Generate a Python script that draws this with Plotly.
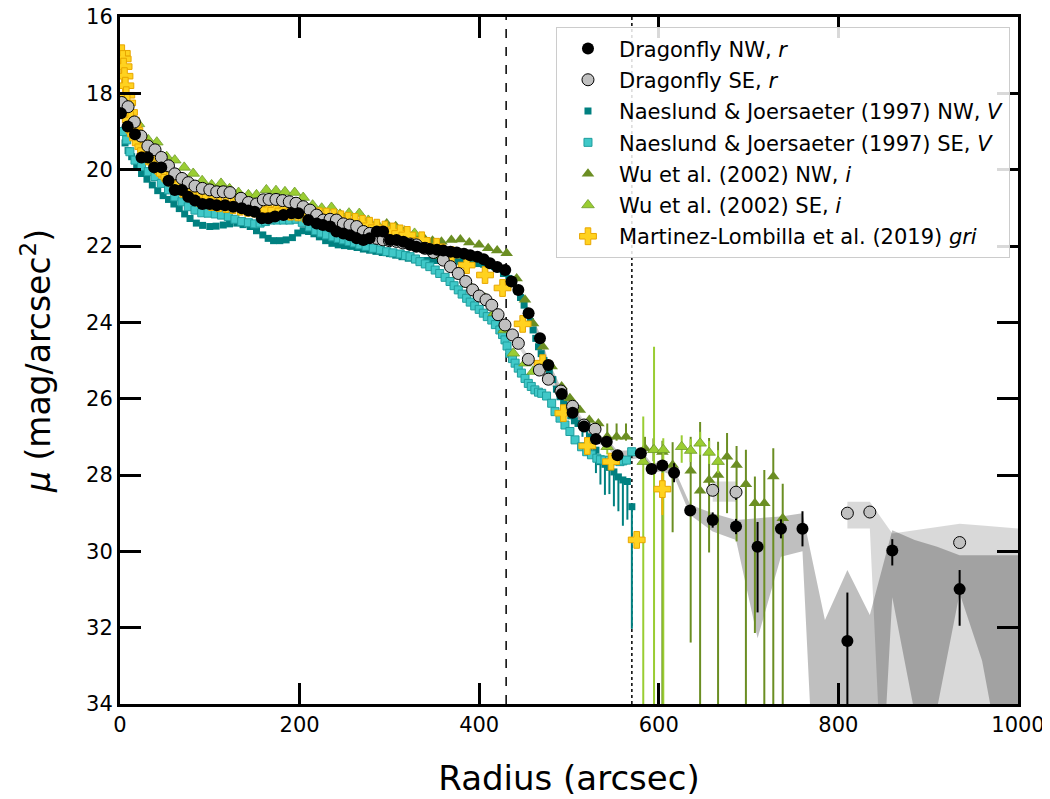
import plotly.graph_objects as go

# ---------------- data ----------------
# Dragonfly NW (r)
NW_r = [1, 8.5, 16.7, 24, 31, 38, 46, 54, 61, 69, 76, 83.5, 91.7, 100, 107.7, 117, 126, 135.5, 143, 150,
        158, 165, 172.6, 182, 191, 198.6, 209.7, 219, 226, 234, 241, 248.7, 256, 263.5, 271, 278, 286, 293, 300.7, 308,
        315.5, 323, 330, 338, 345, 353, 360, 368, 375, 383, 390, 398, 405, 412, 420, 429, 436, 443.6, 455, 467.7,
        477, 492, 504, 516.7, 530, 542, 554, 580, 592, 604, 617, 635, 660, 686, 710, 736, 760, 810, 860, 935]
NW_mu = [18.52, 18.87, 19.07, 19.68, 19.68, 19.94, 19.94, 20.29, 20.53, 20.53, 20.71, 20.81, 20.90, 20.90, 20.93, 20.93, 20.97, 21.01, 21.07, 21.1,
         21.27, 21.27, 21.23, 21.19, 21.14, 21.14, 21.32, 21.41, 21.45, 21.49, 21.62, 21.67, 21.72, 21.80, 21.84, 21.80, 21.62, 21.62, 21.84, 21.84,
         21.89, 21.97, 22.02, 22.05, 22.08, 22.1, 22.12, 22.15, 22.17, 22.2, 22.24, 22.28, 22.35, 22.45, 22.55, 22.63, 22.93, 23.15, 23.76, 24.42,
         25.12, 25.88, 26.37, 26.73, 27.06, 27.13, 27.48, 27.43, 27.84, 27.75, 27.94, 28.93, 29.18, 29.35, 29.88, 29.41, 29.41, 32.35, 29.98, 30.99]
NW_err_up = [0.03] * 67 + [0.1, 0.1, 0.12, 0.25, 0.12, 0.2, 0.2, 0.65, 0.25, 0.46, 1.27, 0.3, 0.5]
NW_err_dn = [0.03] * 67 + [0.1, 0.1, 0.12, 0.25, 0.12, 0.2, 0.2, 1.72, 0.25, 0.46, 3.0, 0.39, 0.96]

# Dragonfly SE (r)
SE_r = [1.9, 9, 16, 23.4, 31, 39, 46, 54, 61, 69, 76, 83.5, 91.7, 100, 107.7, 115, 122.5, 134.7, 143, 152,
        159.6, 166, 173.7, 181, 188.5, 196, 204, 211.6, 219, 226.4, 233.9, 241, 248.7, 256, 263.6, 271, 278, 286, 293, 300,
        308, 315, 323, 330, 339.6, 349, 360, 368, 376.7, 385, 392.7, 400, 407.6, 414, 421, 428.7, 437, 443.6, 454.7, 467,
        477, 491, 504, 516.7, 529, 660, 686, 810, 835, 935]
SE_mu = [18.24, 18.35, 18.75, 19.12, 19.38, 19.48, 19.68, 19.9, 20.11, 20.23, 20.34, 20.43, 20.49, 20.53, 20.58, 20.58, 20.6, 20.75, 20.86, 20.9,
         20.79, 20.78, 20.78, 20.81, 20.84, 20.88, 20.97, 21.06, 21.19, 21.32, 21.3, 21.32, 21.42, 21.45, 21.49, 21.62, 21.67, 21.8, 21.84, 21.86,
         21.88, 21.92, 21.95, 21.97, 22.06, 22.17, 22.37, 22.54, 22.72, 22.93, 23.15, 23.31, 23.41, 23.55, 23.8, 24.07, 24.33, 24.55, 24.97, 25.25,
         25.49, 25.8, 26.2, 26.69, 26.8, 28.4, 28.45, 29.0, 28.97, 29.77]
SE_err_up = [0.03] * 65 + [0.1, 0.05, 0.1, 0.1, 0.12]
SE_err_dn = [0.03] * 65 + [0.1, 0.2, 0.1, 0.1, 0.12]

# Dragonfly uncertainty bands
NWb_r = [330, 345, 360, 375, 390, 405, 420, 429, 436, 443.6, 455, 467.7, 477, 492, 504, 516.7, 530, 542, 554, 567,
         580, 592, 604, 617, 635, 660, 686, 710, 736, 760, 785, 810, 835, 860, 885, 910, 935, 960, 985, 1010]
NWb_hi = [21.95, 22.0, 22.05, 22.1, 22.17, 22.28, 22.47, 22.55, 22.83, 23.05, 23.65, 24.3, 25.0, 25.75, 26.25, 26.62, 26.95, 27.03, 27.37, 27.35,
          27.33, 27.7, 27.65, 27.82, 28.78, 29.0, 29.18, 29.13, 29.09, 29.0, 31.8, 30.49, 31.67, 29.45, 29.7, 29.88, 30.1, 30.1, 30.1, 30.1]
NWb_lo = [22.1, 22.16, 22.2, 22.25, 22.32, 22.43, 22.63, 22.72, 23.03, 23.25, 23.87, 24.55, 25.25, 26.0, 26.5, 26.85, 27.17, 27.25, 27.6, 27.6,
          27.55, 27.95, 27.9, 28.04, 29.05, 29.48, 29.7, 32.28, 30.14, 30.0, 42, 42, 42, 31.2, 34.25, 34.1, 31.1, 32.87, 36, 36]

SEb_r = [330, 339.6, 349, 360, 368, 376.7, 385, 392.7, 400, 407.6, 414, 421, 428.7, 437, 443.6, 454.7, 467, 477, 491, 504, 516.7, 529,
         660, 686,
         810, 835, 860, 885, 910, 935, 960, 985, 1010]
SEb_hi = [21.88, 21.97, 22.08, 22.28, 22.45, 22.63, 22.84, 23.06, 23.22, 23.32, 23.46, 23.71, 23.98, 24.24, 24.46, 24.88, 25.16, 25.4, 25.7, 26.1, 26.58, 26.68,
          28.17, 28.17,
          28.7, 28.7, 29.53, 29.45, 29.37, 29.28, 29.32, 29.36, 29.42]
SEb_lo = [22.06, 22.15, 22.26, 22.46, 22.63, 22.81, 23.02, 23.24, 23.4, 23.5, 23.64, 23.89, 24.16, 24.42, 24.64, 25.06, 25.34, 25.58, 25.9, 26.3, 26.8, 26.92,
          28.7, 28.7,
          29.4, 29.4, 42, 42, 42, 42, 42, 42, 42]
SEb_seg = [0] * 22 + [1] * 2 + [2] * 9

# Naeslund & Joersaeter (1997) NW, V
NJNW_r = [2, 5.6, 9, 13, 18.6, 24, 30, 36, 42, 48, 54, 60, 66, 72, 78, 85, 92, 100, 107, 115,
          122, 130, 137, 145, 152, 159, 165, 171, 178, 185, 192, 198, 204, 210, 216, 222, 229, 236, 243, 250,
          257, 264, 271, 278, 285, 292, 300, 307, 314, 321, 328, 335, 342, 349, 356, 363, 370, 377, 384, 391,
          398, 405, 411, 417, 422, 427, 433, 438, 442, 446, 450, 453, 457, 460, 463, 466, 469, 472, 475, 478,
          482, 486, 490, 494, 498, 502, 506, 510, 515, 520, 525, 530, 535, 540, 545, 550, 555, 560, 565, 570]
NJNW_mu = [19.0, 19.3, 19.5, 19.66, 19.92, 20.1, 20.25, 20.4, 20.55, 20.68, 20.78, 20.9, 21.02, 21.16, 21.28, 21.4, 21.46, 21.49, 21.48, 21.45,
           21.42, 21.4, 21.44, 21.49, 21.6, 21.71, 21.8, 21.86, 21.86, 21.84, 21.78, 21.66, 21.6, 21.62, 21.68, 21.76, 21.86, 21.93, 21.97, 21.99,
           22.01, 22.04, 22.08, 22.11, 22.14, 22.17, 22.2, 22.24, 22.28, 22.32, 22.36, 22.38, 22.38, 22.38, 22.38, 22.39, 22.4, 22.4, 22.42, 22.44,
           22.46, 22.48, 22.5, 22.54, 22.6, 22.72, 22.85, 22.98, 23.15, 23.35, 23.55, 23.76, 23.98, 24.2, 24.42, 24.64, 24.82, 25.0, 25.15, 25.3,
           25.5, 25.75, 25.95, 26.12, 26.3, 26.45, 26.58, 26.65, 26.7, 26.75, 27.0, 27.35, 27.65, 27.72, 27.8, 27.92, 28.05, 28.13, 28.17, 28.83]
NJNW_err_up = [0.05] * 100
NJNW_err_dn = [0.05] * 88 + [0.3, 0.35, 0.4, 0.6, 0.6, 0.8, 0.7, 0.9, 0.9, 1.2, 1.0, 3.2]

# Naeslund & Joersaeter (1997) SE, V
NJSE_r = [3, 7.4, 11, 16.7, 24, 31.5, 39, 46, 54, 61, 69, 76, 83.5, 91, 98, 106, 113, 120.6, 128, 135.5,
          143, 150, 156, 162, 168, 175, 182, 189, 196, 203, 211, 218, 224, 230, 237, 243, 249, 255, 261, 267,
          274, 282, 290, 297, 304, 312, 318, 323, 329, 334, 340, 345, 351, 356, 362, 367.5, 372, 376.7, 381, 386,
          390, 395, 400, 404.6, 409, 414, 418, 423, 426, 428.7, 431, 434, 437, 440, 443.5, 447, 451, 454.7, 458, 462,
          466, 469.6, 475, 480.7, 484.4, 490, 495.5, 501, 506.7, 514, 519.7, 525, 531, 535, 540, 545, 549, 553, 556.8, 560,
          564, 569.8]
NJSE_mu = [19.0, 19.22, 19.53, 19.75, 19.92, 20.05, 20.18, 20.36, 20.53, 20.71, 20.84, 20.97, 21.06, 21.13, 21.14, 21.16, 21.19, 21.23, 21.3, 21.36,
           21.39, 21.42, 21.4, 21.36, 21.32, 21.32, 21.32, 21.32, 21.3, 21.38, 21.5, 21.6, 21.66, 21.71, 21.76, 21.8, 21.84, 21.88, 21.92, 21.97,
           22.01, 22.06, 22.1, 22.15, 22.18, 22.21, 22.25, 22.28, 22.34, 22.41, 22.47, 22.54, 22.63, 22.72, 22.82, 22.93, 23.04, 23.15, 23.26, 23.37,
           23.47, 23.57, 23.66, 23.76, 23.85, 23.94, 24.06, 24.2, 24.32, 24.46, 24.62, 24.81, 24.95, 25.07, 25.2, 25.33, 25.47, 25.6, 25.68, 25.77,
           25.83, 25.86, 25.93, 26.12, 26.34, 26.51, 26.69, 26.86, 27.08, 27.26, 27.39, 27.47, 27.56, 27.6, 27.61, 27.62, 27.61, 27.63, 27.65, 27.63,
           27.61, 27.39]

# Wu et al. (2002) NW, i
WuNW_r = [297, 307, 317, 328, 338, 348, 358, 369, 379, 389, 399.8, 410, 420, 430.6, 441.7, 451, 460, 471, 480.7, 491.8,
          501, 512, 522.6, 532.7, 542.6, 553, 563.5, 584.6, 594, 604, 615.4, 635.5, 646, 656, 666, 676, 686.6, 697, 707, 717.5,
          727.5, 738]
WuNW_mu = [21.41, 21.48, 21.6, 21.7, 21.78, 21.86, 21.89, 21.84, 21.83, 21.91, 21.97, 22.06, 22.12, 22.19, 22.85, 23.41, 24.03, 24.64, 25.16, 25.68,
           25.99, 26.3, 26.56, 26.65, 27.0, 27.0, 27.0, 27.3, 27.34, 27.4, 27.74, 27.89, 28.41, 28.13, 28.0, 27.52, 27.74, 28.24, 28.74, 28.74,
           28.04, 29.13]
WuNW_err_up = [0.05] * 24 + [0.35, 0.35, 0.35] + [0.3, 0.3, 0.3, 0.6, 0.89, 1.8, 1.1, 0.87, 0.62, 0.5, 0.9, 0.7, 0.87, 0.74, 0.9]
WuNW_err_dn = [0.05] * 24 + [0.1, 0.1, 0.1] + [0.3, 0.3, 7, 1.76, 4.5, 7, 1.9, 7, 1.48, 2.0, 7, 3.4, 7, 7, 7]

# Wu et al. (2002) SE, i
WuSE_r = [10, 20.5, 31.5, 41, 52, 61, 71.5, 81.5, 91.5, 102, 112.5, 122, 132, 143, 152, 163, 173.7, 183.7, 194.5, 204,
          214.5, 224.6, 235.5, 245, 255, 266.5, 276.5, 287, 297, 307, 317.4, 328, 338, 348, 358, 368, 378, 388, 397, 406.5,
          417, 428, 438, 451, 460, 542.6, 582.7, 594.7, 605, 625.5, 635.5, 646, 656, 666]
WuSE_mu = [18.45, 18.8, 19.22, 19.28, 19.66, 19.75, 19.94, 20.1, 20.29, 20.4, 20.36, 20.5, 20.6, 20.66, 20.66, 20.53, 20.55, 20.58, 20.6, 20.73,
           20.93, 21.01, 20.99, 21.17, 21.14, 21.15, 21.33, 21.45, 21.5, 21.55, 21.62, 21.67, 21.89, 22.05, 22.25, 22.5, 22.75, 23.0, 23.2, 23.37,
           23.75, 24.2, 24.81, 25.07, 25.29, 27.26, 27.65, 27.34, 27.34, 27.26, 27.36, 27.17, 27.41, 27.65]
WuSE_err_up = [0.05] * 45 + [0.2, 1.18, 2.7, 0.3, 0.3, 0.3, 0.3, 0.3, 0.3]
WuSE_err_dn = [0.05] * 45 + [0.2, 7, 7, 7, 0.42, 0.3, 0.3, 0.3, 0.3]

# Martinez-Lombilla et al. (2019) gri
ML_r = [2, 3, 4, 5, 6, 7, 8, 10, 12, 14, 16, 18, 20, 23, 26, 29, 32, 35, 38, 42,
        46, 50, 55, 60, 65, 70, 76, 82, 88, 95, 102, 110, 118, 126, 134, 142, 150, 158, 166, 174,
        182, 190, 198, 206, 214, 222, 230, 238, 246, 254, 262, 270, 278, 286, 295, 304, 312, 320, 336, 352.6,
        369, 386, 406.5, 426, 448.4, 470.6, 493.7, 520.4, 546.8, 575.4, 604]
ML_mu = [16.95, 17.1, 17.3, 17.55, 17.8, 18.05, 18.25, 18.5, 18.7, 18.85, 18.97, 19.07, 19.17, 19.3, 19.4, 19.5, 19.6, 19.7, 19.8, 19.9,
         20.0, 20.1, 20.2, 20.3, 20.4, 20.5, 20.6, 20.68, 20.74, 20.8, 20.85, 20.88, 20.9, 20.93, 20.97, 21.0, 21.02, 21.05, 21.05, 21.06,
         21.08, 21.1, 21.12, 21.15, 21.2, 21.22, 21.23, 21.25, 21.3, 21.34, 21.37, 21.42, 21.47, 21.52, 21.57, 21.62, 21.67, 21.71, 21.85, 22.02,
         22.24, 22.5, 22.76, 23.1, 24.04, 25.07, 26.38, 27.24, 27.65, 29.7, 28.37]
ML_err_up = [0.05] * 70 + [0.42]
ML_err_dn = [0.05] * 70 + [0.68]

# reference radii
R_DASHED = 430
R_DOTTED = 570

X_TICKS = [0, 200, 400, 600, 800, 1000]
Y_TICKS = [16, 18, 20, 22, 24, 26, 28, 30, 32, 34]

FONT = "DejaVu Sans"

# ---------------- figure ----------------
fig = go.Figure()


def band(r, hi, lo, color):
    xs = list(r) + list(r)[::-1]
    ys = list(hi) + list(lo)[::-1]
    fig.add_trace(go.Scatter(x=xs, y=ys, mode="lines", fill="toself", fillcolor=color,
                             line=dict(width=0), hoverinfo="skip", showlegend=False))


# SE band segments
for s in sorted(set(SEb_seg)):
    idx = [i for i, g in enumerate(SEb_seg) if g == s]
    band([SEb_r[i] for i in idx], [SEb_hi[i] for i in idx], [SEb_lo[i] for i in idx], "rgba(0,0,0,0.15)")
band(NWb_r, NWb_hi, NWb_lo, "rgba(0,0,0,0.25)")


def series(name, x, y, up, dn, symbol, size, fill, edge, edgew, ecolor, rank):
    fig.add_trace(go.Scatter(
        x=x, y=y, mode="markers", name=name, legendrank=rank, legendgroup=str(rank),
        marker=dict(symbol=symbol, size=size, color=fill, line=dict(color=edge, width=edgew)),
        error_y=dict(type="data", symmetric=False, array=dn, arrayminus=up,
                     color=ecolor, thickness=2, width=0),
    ))


series("Naeslund & Joersaeter (1997) NW, <i>V</i>", NJNW_r, NJNW_mu, NJNW_err_up, NJNW_err_dn,
       "square", 7, "#008080", "#008080", 0, "#008080", 3)
series("Naeslund & Joersaeter (1997) SE, <i>V</i>", NJSE_r, NJSE_mu, [0.03] * len(NJSE_r), [0.03] * len(NJSE_r),
       "square", 8, "#40c8c8", "#1e9e9e", 1, "#40c8c8", 4)
series("Wu et al. (2002) NW, <i>i</i>", WuNW_r, WuNW_mu, WuNW_err_up, WuNW_err_dn,
       "triangle-up", 11, "#6b8e23", "#6b8e23", 0, "#6b8e23", 5)
series("Wu et al. (2002) SE, <i>i</i>", WuSE_r, WuSE_mu, WuSE_err_up, WuSE_err_dn,
       "triangle-up", 11, "#9acd32", "#6f9a2a", 0.8, "#9acd32", 6)
series("Martinez-Lombilla et al. (2019) <i>gri</i>", ML_r, ML_mu, ML_err_up, ML_err_dn,
       "cross", 14, "#ffd21f", "#e8a600", 1, "#f0b400", 7)
series("Dragonfly SE, <i>r</i>", SE_r, SE_mu, SE_err_up, SE_err_dn,
       "circle", 12, "#c0c0c0", "#000000", 1, "#000000", 2)
series("Dragonfly NW, <i>r</i>", NW_r, NW_mu, NW_err_up, NW_err_dn,
       "circle", 12, "#000000", "#000000", 0, "#000000", 1)

fig.add_shape(type="line", x0=R_DASHED, x1=R_DASHED, y0=0, y1=1, xref="x", yref="paper",
              line=dict(color="black", width=1.5, dash="dash"), layer="below")
fig.add_shape(type="line", x0=R_DOTTED, x1=R_DOTTED, y0=0, y1=1, xref="x", yref="paper",
              line=dict(color="black", width=1.5, dash="dot"), layer="below")

axis_common = dict(showgrid=False, zeroline=False, showline=True, linewidth=3, linecolor="black",
                   mirror="allticks", ticks="inside", ticklen=21, tickwidth=2.5, tickcolor="black",
                   automargin=False, ticklabeloverflow="allow",
                   tickfont=dict(family=FONT, size=21, color="black"))

fig.update_xaxes(range=[0, 1000], tickvals=X_TICKS, ticktext=[str(v) for v in X_TICKS],
                 title=dict(text="Radius (arcsec)", font=dict(family=FONT, size=34, color="black"), standoff=30),
                 **axis_common)
fig.update_yaxes(range=[34, 16], tickvals=Y_TICKS, ticktext=[str(v) for v in Y_TICKS],
                 title=dict(text="<i>μ</i> (mag/arcsec<sup>2</sup>)", font=dict(family=FONT, size=33, color="black"), standoff=26),
                 **axis_common)

# the page body adds an 8 px offset; size and margins compensate for it
fig.update_layout(
    width=1042, height=791,
    margin=dict(l=112, r=32, t=9, b=95),
    paper_bgcolor="white", plot_bgcolor="white",
    font=dict(family=FONT, color="black"),
    legend=dict(x=0.4855, y=0.985, xanchor="left", yanchor="top",
                bgcolor="rgba(255,255,255,0.85)", bordercolor="#cccccc", borderwidth=1,
                font=dict(family=FONT, size=21, color="black"), tracegroupgap=1, itemwidth=52),
    showlegend=True,
)

fig.write_html("out.html")
